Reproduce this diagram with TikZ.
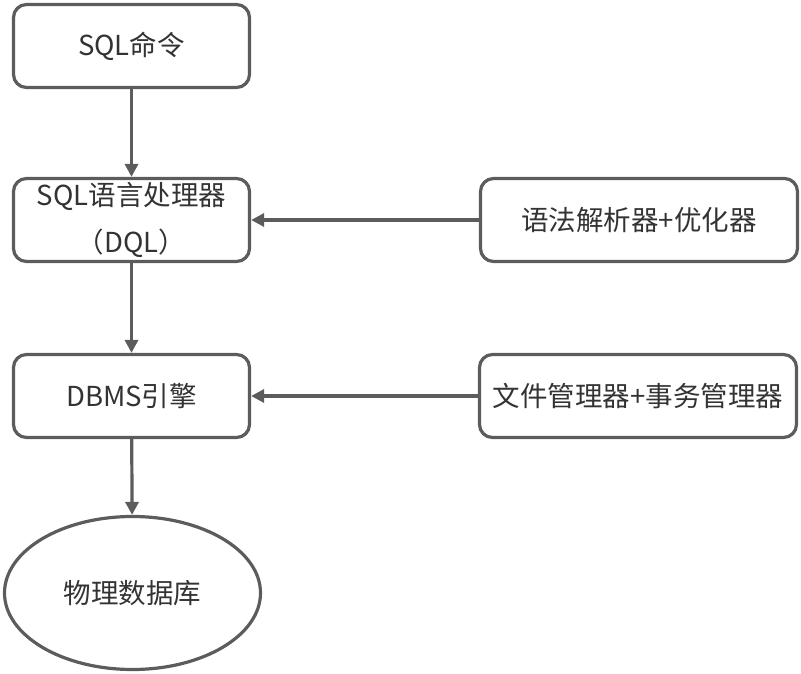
\documentclass[tikz,border=0pt]{standalone}
\usepackage{fontspec}
\setmainfont{Noto Sans CJK SC}
\usetikzlibrary{arrows.meta,shapes.geometric}
\definecolor{edge}{HTML}{5C5C5C}
\definecolor{txt}{HTML}{333333}
\tikzset{
  box/.style={draw=edge, line width=3.2pt, rounded corners=13pt, fill=white,
    minimum width=236pt, minimum height=83pt, inner sep=0pt, text=txt,
    font=\fontsize{27.5}{47}\selectfont, align=center},
  rbox/.style={box, minimum width=317pt},
  oval/.style={draw=edge, line width=3.2pt, ellipse, minimum width=256pt, minimum height=153pt,
    inner sep=0pt, text=txt, font=\fontsize{27.5}{47}\selectfont},
  conn/.style={draw=edge, line width=3.2pt, -{Triangle[length=13pt,width=13pt]}}
}
\begin{document}
\begin{tikzpicture}[x=1pt,y=-1pt]
\useasboundingbox (0,0) rectangle (801,674);
\node[box] (cmd) at (131.5,46) {SQL命令};
\node[box] (proc) at (131.5,220) {SQL语言处理器\\（DQL）};
\node[box] (eng) at (131.5,396) {DBMS引擎};
\node[oval] (db) at (132.5,593) {物理数据库};
\node[rbox] (parse) at (639,220) {语法解析器+优化器};
\node[rbox] (mgr) at (638,396) {文件管理器+事务管理器};
\draw[conn] (cmd) -- (proc);
\draw[conn] (proc) -- (eng);
\draw[conn] (eng) -- (db);
\draw[conn] (parse) -- (proc);
\draw[conn] (mgr) -- (eng);
\end{tikzpicture}
\end{document}
